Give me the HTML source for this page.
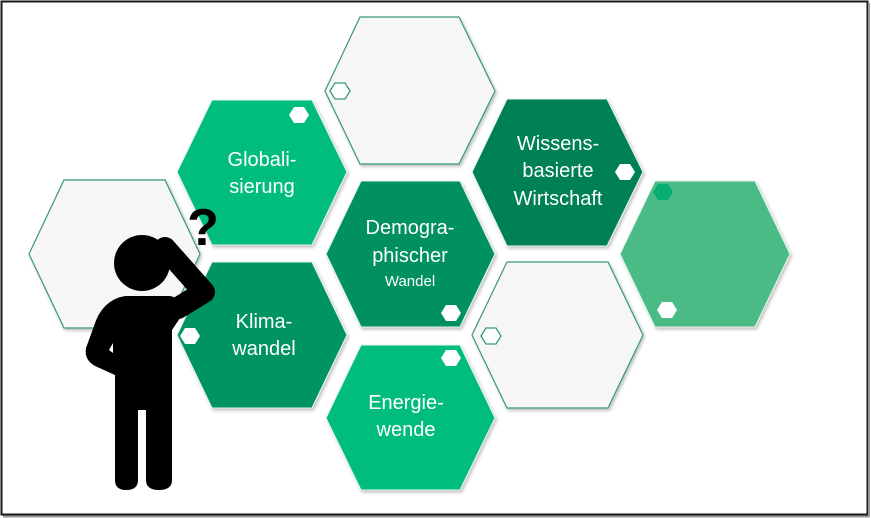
<!DOCTYPE html>
<html><head><meta charset="utf-8"><style>
html,body{margin:0;padding:0;background:#fff}
svg{display:block}
text{font-family:"Liberation Sans","DejaVu Sans",sans-serif;fill:#fff;text-anchor:middle}
</style></head><body>
<svg width="871" height="518" viewBox="0 0 871 518" xmlns="http://www.w3.org/2000/svg">
<defs>
<filter id="sh" x="-10%" y="-10%" width="130%" height="130%"><feDropShadow dx="1.5" dy="2" stdDeviation="1.5" flood-color="#000" flood-opacity="0.25"/></filter>
</defs>
<rect x="0" y="0" width="871" height="518" fill="#fff"/>
<rect x="1.5" y="1.5" width="866" height="513" fill="none" stroke="#1a1a1a" stroke-width="2"/>
<line x1="869" y1="3" x2="869" y2="517" stroke="#999" stroke-width="2"/>
<line x1="3" y1="516.5" x2="869" y2="516.5" stroke="#999" stroke-width="2"/>

<g filter="url(#sh)">
<polygon points="360,17 459,17 495,91 459,164 360,164 325,91" fill="#f6f6f6" stroke="#3a9a6e" stroke-width="1.2"/>
<polygon points="64,180 165,180 200,254 165,328 64,328 29,254" fill="#f6f6f6" stroke="#3a9a6e" stroke-width="1.2"/>
<polygon points="507,262 608,262 643,335 608,408 507,408 472,335" fill="#f6f6f6" stroke="#3a9a6e" stroke-width="1.2"/>
<polygon points="212,100 312,100 347,172 312,245 212,245 177,172" fill="#00bd7e" stroke="#e8f5ee" stroke-width="1"/>
<polygon points="212,262 312,262 347,335 312,408 212,408 177,335" fill="#009461" stroke="#e8f5ee" stroke-width="1"/>
<polygon points="361,181 460,181 495,254 460,327 361,327 326,254" fill="#00915e" stroke="#e8f5ee" stroke-width="1"/>
<polygon points="361,345 460,345 495,418 460,490 361,490 326,418" fill="#00bd7e" stroke="#e8f5ee" stroke-width="1"/>
<polygon points="507,99 607,99 643,172 607,246 507,246 472,172" fill="#008152" stroke="#e8f5ee" stroke-width="1"/>
<polygon points="655,181 755,181 790,254 755,327 655,327 620,254" fill="#4bbb86" stroke="#e8f5ee" stroke-width="1"/>
</g>

<polygon points="294,107 304,107 309,115 304,123 294,123 289,115" fill="#fff"/>
<polygon points="185,328 195,328 200,336 195,344 185,344 180,336" fill="#fff"/>
<polygon points="335,83 345,83 350,91 345,99 335,99 330,91" fill="#fff" stroke="#3a9a6e" stroke-width="1.3"/>
<polygon points="620,164 630,164 635,172 630,180 620,180 615,172" fill="#fff"/>
<polygon points="446,305 456,305 461,313 456,321 446,321 441,313" fill="#fff"/>
<polygon points="658,184 668,184 673,192 668,200 658,200 653,192" fill="#0aad72"/>
<polygon points="662,302 672,302 677,310 672,318 662,318 657,310" fill="#fff"/>
<polygon points="486,328 496,328 501,336 496,344 486,344 481,336" fill="#fff" stroke="#3a9a6e" stroke-width="1.3"/>
<polygon points="446,350 456,350 461,358 456,366 446,366 441,358" fill="#fff"/>

<text x="262" y="166" font-size="20">Globali-</text>
<text x="262" y="193" font-size="20">sierung</text>
<text x="264" y="328" font-size="20">Klima-</text>
<text x="264" y="355" font-size="20">wandel</text>
<text x="410" y="234" font-size="20">Demogra-</text>
<text x="410" y="262" font-size="20">phischer</text>
<text x="410" y="286" font-size="15">Wandel</text>
<text x="406" y="409" font-size="20">Energie-</text>
<text x="406" y="436" font-size="20">wende</text>
<text x="558" y="150" font-size="20">Wissens-</text>
<text x="558" y="177" font-size="20">basierte</text>
<text x="558" y="205" font-size="20">Wirtschaft</text>

<g fill="#000">
<circle cx="142" cy="263" r="28"/>
<polyline points="178,308 204,292 165,248" fill="none" stroke="#000" stroke-width="22" stroke-linejoin="round" stroke-linecap="round"/>
<path d="M125,296 L170,296 Q182,298 184,312 L172,330 L172,480 Q172,490 159,490 Q146,490 146,480 L146,410 L138,410 L138,480 Q138,490 126,490 Q115,490 115,480 L115,375 L95,366 Q84,360 86,348 L94,326 Q102,300 125,296 Z"/>
</g>
<polygon points="109,350 113,343 113,353" fill="#fff"/>
<text x="203" y="245" font-size="52" font-weight="bold" style="fill:#000">?</text>
</svg>
</body></html>
